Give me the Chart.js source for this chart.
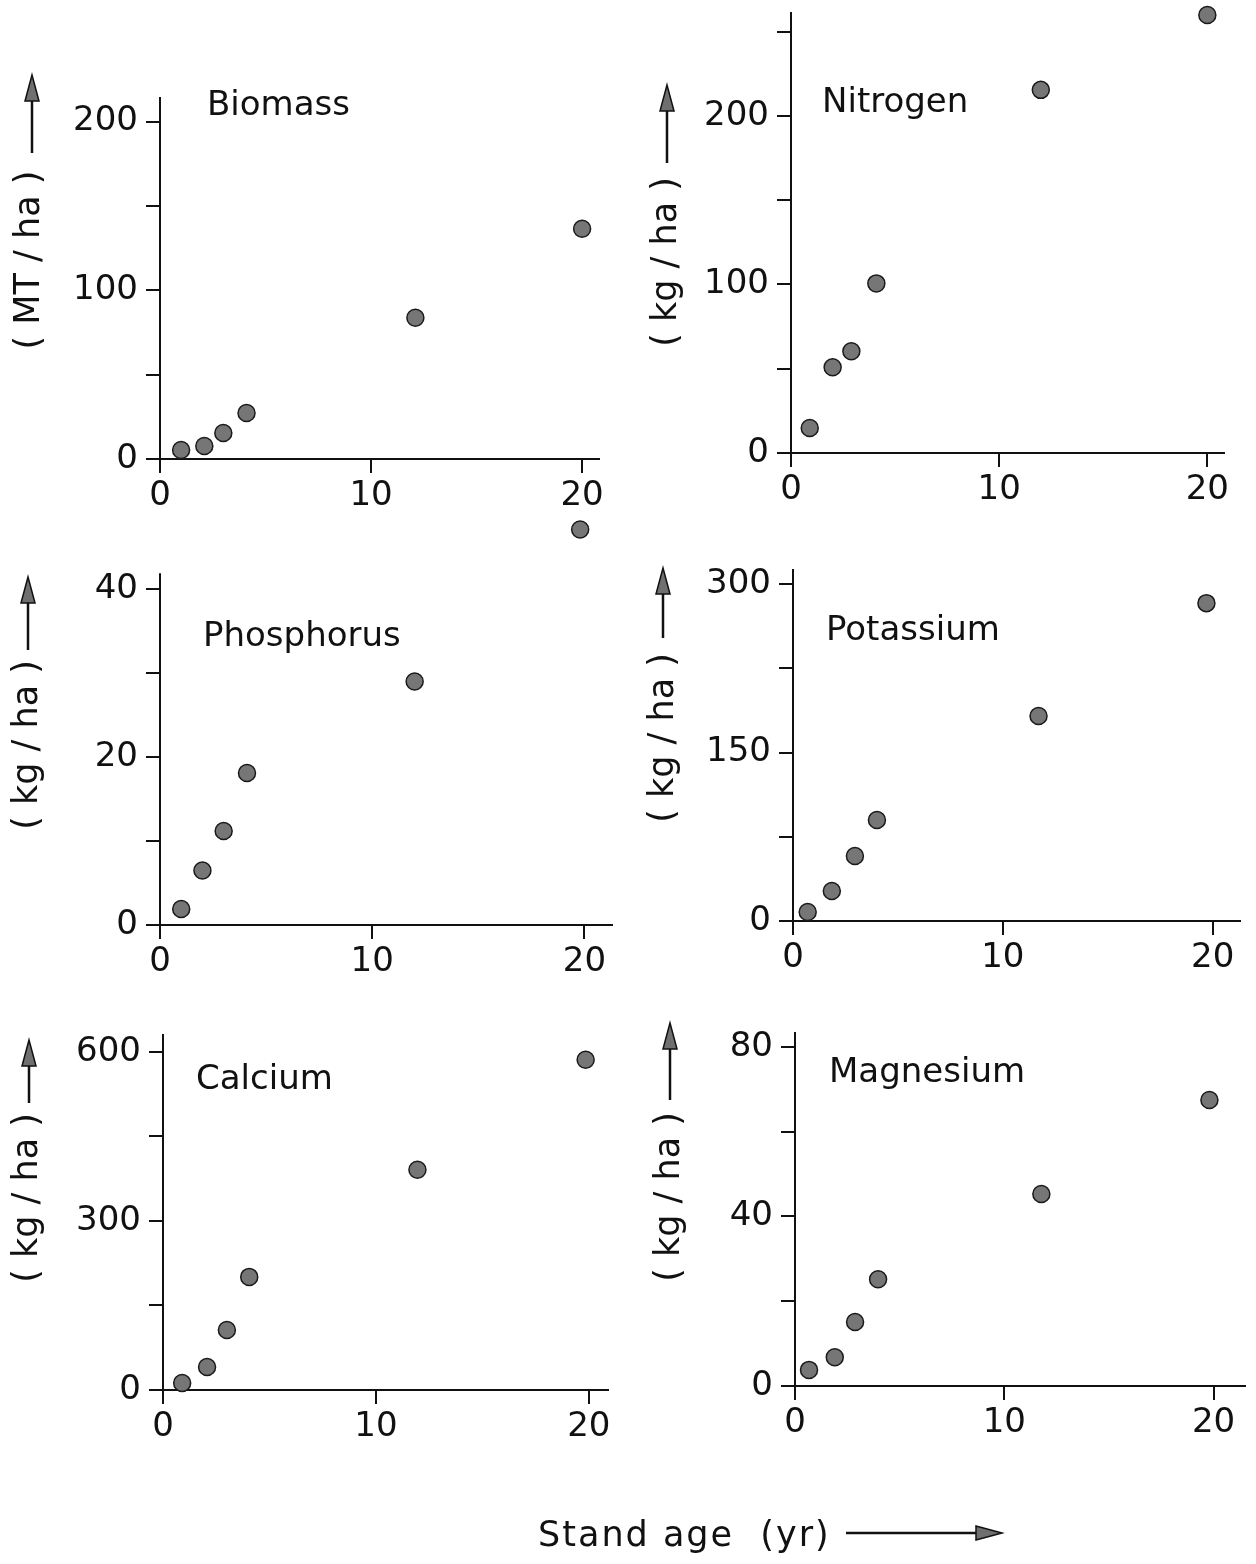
<!DOCTYPE html>
<html>
<head>
<meta charset="utf-8">
<script src="https://cdn.jsdelivr.net/npm/chart.js@4.4.0/dist/chart.umd.min.js"></script>
<style>
  html, body { margin: 0; padding: 0; background: #fff; }
  #page { position: relative; width: 1256px; height: 1564px; overflow: hidden; }
  #page canvas { position: absolute; left: 0; top: -40px; }
</style>
</head>
<body>
<div id="page"></div>
<script>
// Stand age (yr) and amounts
const biomassAge = [1.0, 2.1, 3.0, 4.1, 12.1, 20.0];
const biomassValue = [5.3, 7.7, 15.4, 27.3, 83.7, 136.5];       // MT/ha

const nitrogenAge = [0.9, 2.0, 2.9, 4.1, 12.0, 20.0];
const nitrogenValue = [14.8, 50.9, 60.4, 100.6, 215.4, 259.8];  // kg/ha

const phosphorusAge = [1.0, 2.0, 3.0, 4.1, 12.0, 19.8];
const phosphorusValue = [1.9, 6.5, 11.2, 18.1, 29.0, 47.1];     // kg/ha

const potassiumAge = [0.7, 1.85, 2.95, 4.0, 11.7, 19.7];
const potassiumValue = [8, 26.7, 57.9, 89.9, 182.5, 283];       // kg/ha

const calciumAge = [0.9, 2.07, 3.0, 4.05, 11.95, 19.85];
const calciumValue = [12.4, 40.9, 106.6, 200.7, 390.8, 586];    // kg/ha

const magnesiumAge = [0.67, 1.9, 2.87, 3.97, 11.77, 19.8];
const magnesiumValue = [3.8, 6.8, 15.1, 25.2, 45.3, 67.5];      // kg/ha

const xTicks = [0, 10, 20];

const OFF = 40;          // canvases start 40px above the page
const W = 1256, H = 1564 + OFF;
const Y_AXIS_W = 90, X_AXIS_H = 60;
const INK = '#111';

Chart.defaults.font.family = '"DejaVu Sans", sans-serif';
Chart.defaults.font.size = 34;
Chart.defaults.color = INK;

// panel layout (page pixels) and axis settings
const panels = [
  { name: 'Biomass', unit: '( MT / ha )', ages: biomassAge, values: biomassValue,
    area: { left: 160, top: 98, right: 599, bottom: 459 }, xMax: 20.8, yMax: 214, yStep: 50, yLabelEvery: 100,
    nameAt: [207, 115], unitAt: [30, 260], arrow: [32, 153, 75] },
  { name: 'Nitrogen', unit: '( kg / ha )', ages: nitrogenAge, values: nitrogenValue,
    area: { left: 791, top: 13, right: 1224, bottom: 453 }, xMax: 20.8, yMax: 261, yStep: 50, yLabelEvery: 100,
    nameAt: [822, 112], unitAt: [667, 262], arrow: [667, 163, 85] },
  { name: 'Phosphorus', unit: '( kg / ha )', ages: phosphorusAge, values: phosphorusValue,
    area: { left: 160, top: 522, right: 612, bottom: 925 }, xMax: 21.3, yMax: 48, yTop: 41.9, yStep: 10, yLabelEvery: 20,
    nameAt: [203, 646], unitAt: [28, 745], arrow: [28, 650, 577] },
  { name: 'Potassium', unit: '( kg / ha )', ages: potassiumAge, values: potassiumValue,
    area: { left: 793, top: 570, right: 1240, bottom: 921 }, xMax: 21.3, yMax: 312.5, yStep: 75, yLabelEvery: 150,
    nameAt: [826, 640], unitAt: [664, 738], arrow: [663, 638, 568] },
  { name: 'Calcium', unit: '( kg / ha )', ages: calciumAge, values: calciumValue,
    area: { left: 163, top: 1035, right: 608, bottom: 1390 }, xMax: 20.9, yMax: 630, yStep: 150, yLabelEvery: 300,
    nameAt: [196, 1089], unitAt: [28, 1198], arrow: [29, 1103, 1040] },
  { name: 'Magnesium', unit: '( kg / ha )', ages: magnesiumAge, values: magnesiumValue,
    area: { left: 795, top: 1033, right: 1245, bottom: 1386 }, xMax: 21.5, yMax: 83.3, yStep: 20, yLabelEvery: 40,
    nameAt: [829, 1082], unitAt: [670, 1197], arrow: [670, 1100, 1023], footer: true }
];

function drawArrow(ctx, x1, y1, x2, y2) {
  const len = 26, half = 7;
  const ang = Math.atan2(y2 - y1, x2 - x1);
  const bx = x2 - Math.cos(ang) * len, by = y2 - Math.sin(ang) * len;
  ctx.save();
  ctx.strokeStyle = INK;
  ctx.lineWidth = 2.5;
  ctx.beginPath();
  ctx.moveTo(x1, y1);
  ctx.lineTo(bx, by);
  ctx.stroke();
  ctx.beginPath();
  ctx.moveTo(x2, y2);
  ctx.lineTo(bx - Math.sin(ang) * half, by + Math.cos(ang) * half);
  ctx.lineTo(bx + Math.sin(ang) * half, by - Math.cos(ang) * half);
  ctx.closePath();
  ctx.fillStyle = '#6f6f6f';
  ctx.fill();
  ctx.lineWidth = 1.5;
  ctx.stroke();
  ctx.restore();
}

// panel name, rotated unit label with arrow, shared x label
const decorPlugin = {
  id: 'decor',
  afterDraw(chart, args, opts) {
    const p = opts.panel;
    const ctx = chart.ctx;
    ctx.save();
    ctx.translate(0, OFF);
    ctx.fillStyle = INK;
    ctx.font = '34px "DejaVu Sans", sans-serif';
    ctx.textAlign = 'left';
    ctx.textBaseline = 'alphabetic';
    ctx.fillText(p.name, p.nameAt[0], p.nameAt[1]);

    ctx.save();
    ctx.translate(p.unitAt[0], p.unitAt[1]);
    ctx.rotate(-Math.PI / 2);
    ctx.font = '35px "DejaVu Sans", sans-serif';
    ctx.textAlign = 'center';
    ctx.textBaseline = 'middle';
    ctx.fillText(p.unit, 0, 0);
    ctx.restore();
    drawArrow(ctx, p.arrow[0], p.arrow[1], p.arrow[0], p.arrow[2]);

    if (p.footer) {
      ctx.fillStyle = INK;
      ctx.font = '35px "DejaVu Sans", sans-serif';
      ctx.letterSpacing = '2px';
      ctx.textAlign = 'left';
      ctx.textBaseline = 'alphabetic';
      ctx.fillText('Stand age  (yr)', 538, 1546);
      ctx.letterSpacing = '0px';
      drawArrow(ctx, 846, 1533, 1002, 1533);
    }
    ctx.restore();
  }
};

const page = document.getElementById('page');

panels.forEach(p => {
  const canvas = document.createElement('canvas');
  canvas.width = W;
  canvas.height = H;
  page.appendChild(canvas);

  const points = p.ages.map((a, i) => ({ x: a, y: p.values[i] }));
  const datasets = [{
    data: points,
    pointRadius: 8.5,
    pointBackgroundColor: '#767676',
    pointBorderColor: '#1a1a1a',
    pointBorderWidth: 1.5,
    showLine: false,
    clip: false
  }];
  const hideBorder = p.yTop !== undefined;
  if (hideBorder) {
    // axis line stops below the scale top so the high point stays visible
    datasets.push({
      type: 'line',
      data: [{ x: 0, y: 0 }, { x: 0, y: p.yTop }],
      borderColor: INK,
      borderWidth: 2,
      pointRadius: 0,
      clip: false
    });
  }

  new Chart(canvas, {
    type: 'scatter',
    data: { datasets },
    options: {
      responsive: false,
      animation: false,
      events: [],
      layout: {
        padding: {
          left: p.area.left - Y_AXIS_W,
          top: p.area.top + OFF,
          right: W - p.area.right,
          bottom: H - (p.area.bottom + OFF) - X_AXIS_H
        }
      },
      plugins: {
        legend: { display: false },
        tooltip: { enabled: false },
        decor: { panel: p }
      },
      scales: {
        x: {
          type: 'linear',
          min: 0,
          max: p.xMax,
          afterFit: s => { s.height = X_AXIS_H; },
          afterBuildTicks: s => { s.ticks = xTicks.map(v => ({ value: v })); },
          ticks: { padding: 3, maxRotation: 0, autoSkip: false, includeBounds: false },
          grid: { drawOnChartArea: false, drawTicks: true, tickLength: 14, color: INK, lineWidth: 2 },
          border: { display: true, color: INK, width: 2 }
        },
        y: {
          type: 'linear',
          min: 0,
          max: p.yMax,
          afterFit: s => { s.width = Y_AXIS_W; },
          afterBuildTicks: s => {
            const top = hideBorder ? p.yTop : p.yMax;
            s.ticks = s.ticks.filter(t => t.value <= top);
          },
          ticks: {
            stepSize: p.yStep,
            padding: 8,
            autoSkip: false,
            includeBounds: false,
            callback: v => (v % p.yLabelEvery === 0 ? String(v) : '')
          },
          grid: { drawOnChartArea: false, drawTicks: true, tickLength: 14, color: INK, lineWidth: 2 },
          border: { display: !hideBorder, color: INK, width: 2 }
        }
      }
    },
    plugins: [decorPlugin]
  });
});
</script>
</body>
</html>
